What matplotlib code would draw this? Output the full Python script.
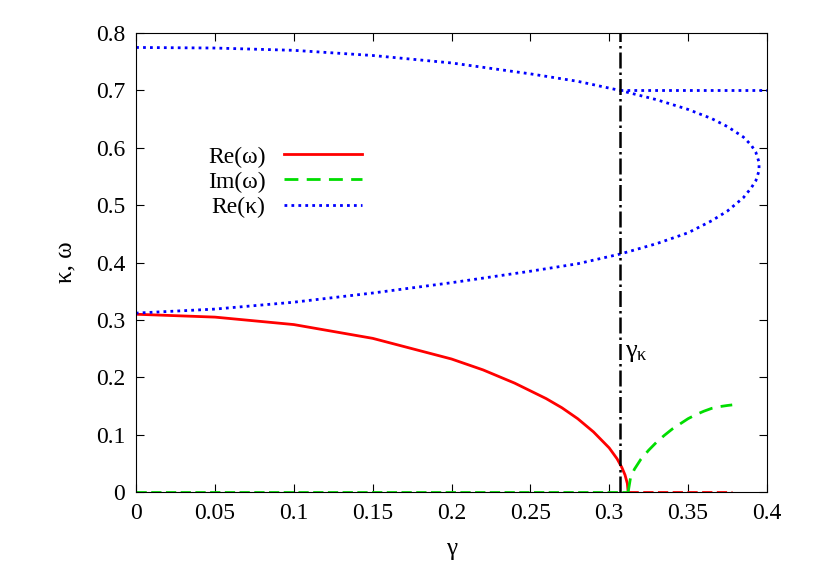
import matplotlib
matplotlib.use('Agg')
import matplotlib.pyplot as plt

plt.rcParams['font.family'] = 'Liberation Serif'
plt.rcParams['font.size'] = 17

# Re(kappa), upper and lower branch (joined at the turning point)
g_kap = [0, 0.05, 0.1, 0.15, 0.2, 0.25, 0.28, 0.307, 0.33, 0.35, 0.365, 0.375, 0.385, 0.39, 0.393, 0.395,
         0.395, 0.393, 0.39, 0.385, 0.375, 0.365, 0.35, 0.33, 0.307, 0.28, 0.25, 0.2, 0.15, 0.1, 0.05, 0]
re_kap = [0.775, 0.774, 0.770, 0.761, 0.748, 0.729, 0.716, 0.700, 0.684, 0.667, 0.651, 0.637, 0.619, 0.605, 0.592, 0.575,
          0.56, 0.543, 0.53, 0.513, 0.49, 0.473, 0.452, 0.433, 0.415, 0.398, 0.385, 0.365, 0.347, 0.331, 0.319, 0.312]
g_flat = [0.307, 0.4]
kap_flat = [0.700, 0.700]
# Re(omega)
g_re = [0, 0.05, 0.1, 0.15, 0.2, 0.22, 0.24, 0.26, 0.27, 0.28, 0.29, 0.3, 0.305, 0.308, 0.31, 0.3115, 0.312]
re_om = [0.31, 0.305, 0.292, 0.268, 0.232, 0.213, 0.19, 0.163, 0.147, 0.128, 0.105, 0.077, 0.058, 0.043, 0.03, 0.015, 0.0]
# Im(omega)
g_im = [0.312, 0.3135, 0.316, 0.32, 0.325, 0.33, 0.335, 0.34, 0.345, 0.35, 0.355, 0.36, 0.365, 0.37, 0.375, 0.378]
im_om = [0.0, 0.025, 0.04, 0.057, 0.073, 0.087, 0.099, 0.11, 0.119, 0.128, 0.135, 0.141, 0.146, 0.149, 0.151, 0.152]
gamma_k = 0.307

fig = plt.figure(figsize=(8.3, 5.81), dpi=100)
ax = fig.add_axes([0.164, 0.153, 0.76, 0.79])

ax.plot(g_re, re_om, color='red', lw=2, label='Re(ω)')
ax.plot([0.312, 0.378], [0, 0], color='red', lw=2, ls='--')
ax.plot(g_im, im_om, color='#00dd00', lw=2, ls=(0, (5, 3)), label='Im(ω)')
ax.plot([0, 0.312], [0, 0], color='#00dd00', lw=2, ls='--')
ax.plot(g_kap, re_kap, color='blue', lw=2, ls=(0, (1, 1.5)), label='Re(κ)')
ax.plot(g_flat, kap_flat, color='blue', lw=2, ls=(0, (1, 1.5)))
ax.axvline(gamma_k, color='black', lw=1.8, ls='-.')
ax.text(0.31, 0.235, r'$\mathregular{γ_κ}$', fontsize=19)

ax.set_xlim(0, 0.4)
ax.set_ylim(0, 0.8)
ax.set_xticks([0, 0.05, 0.1, 0.15, 0.2, 0.25, 0.3, 0.35, 0.4])
ax.set_xticklabels(['0', '0.05', '0.1', '0.15', '0.2', '0.25', '0.3', '0.35', '0.4'])
ax.set_yticks([0, 0.1, 0.2, 0.3, 0.4, 0.5, 0.6, 0.7, 0.8])
ax.set_yticklabels(['0', '0.1', '0.2', '0.3', '0.4', '0.5', '0.6', '0.7', '0.8'])
ax.tick_params(direction='in', top=True, right=True, length=6, pad=8)
ax.set_xlabel('γ', fontsize=18, labelpad=10)
ax.set_ylabel('κ, ω', fontsize=18, labelpad=14)
ax.legend(loc='upper left', bbox_to_anchor=(0.08, 0.8), frameon=False,
          markerfirst=False, handlelength=3.3, labelspacing=0.15, fontsize=17)

fig.savefig('out.png')
